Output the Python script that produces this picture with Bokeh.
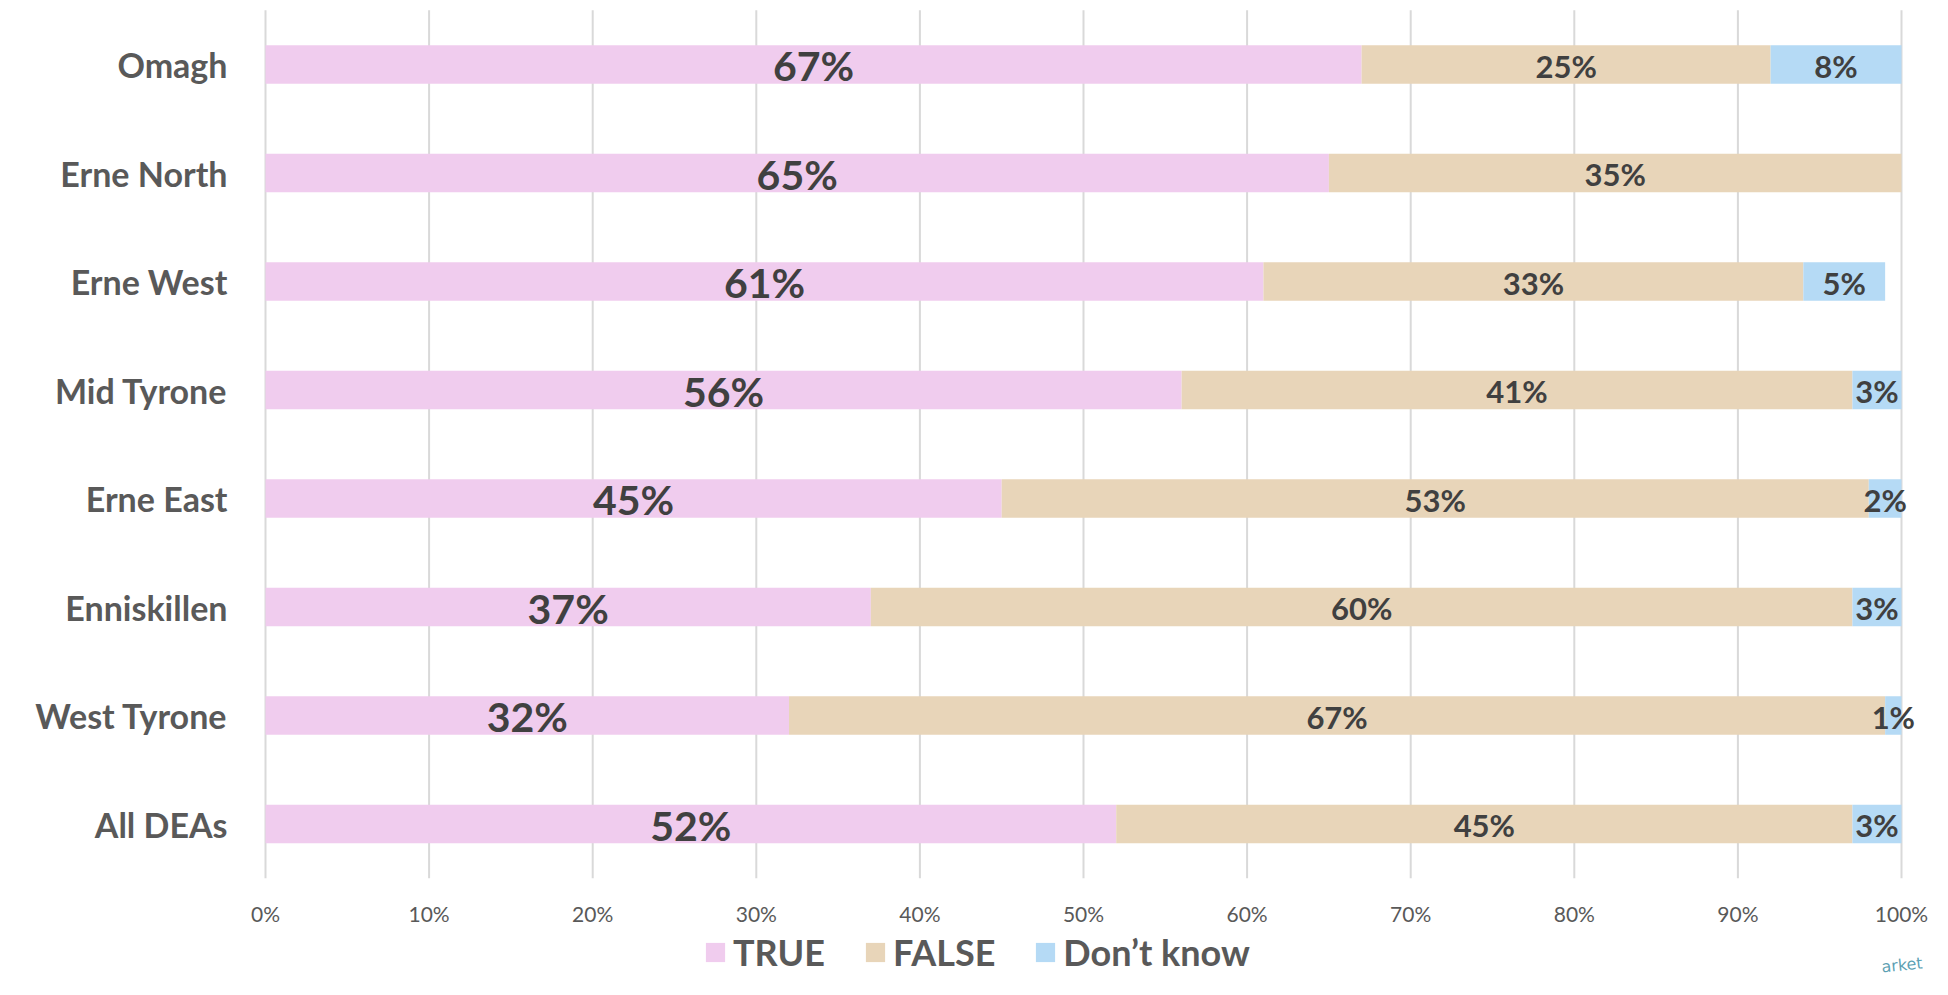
from bokeh.plotting import figure
from bokeh.models import (ColumnDataSource, Range1d, FixedTicker,
                          LabelSet, Legend, LegendItem, Label)
from bokeh.core.properties import value
from bokeh.embed import file_html
from bokeh.resources import INLINE

categories = ["Omagh", "Erne North", "Erne West", "Mid Tyrone",
              "Erne East", "Enniskillen", "West Tyrone", "All DEAs"]
true_vals = [67, 65, 61, 56, 45, 37, 32, 52]
false_vals = [25, 35, 33, 41, 53, 60, 67, 45]
dk_vals = [8, 0, 5, 3, 2, 3, 1, 3]
series_names = ["TRUE", "FALSE", "Don\u2019t know"]
x_ticks = [0, 10, 20, 30, 40, 50, 60, 70, 80, 90, 100]
x_tick_labels = [f"{t}%" for t in x_ticks]

colors = ["#F0CCEE", "#E8D5B9", "#B5DAF5"]
FONT = "Lato"
TXT = "#404040"
GRAY = "#595959"

W, H = 1932, 979
LEFT = 238                      # frame left edge (px)
ZERO = 265                      # px of 0 %
PX_PER_PCT = (1901 - ZERO) / 100.0
ROW = 108.5                     # px per category row
FIRST = 64.0                    # px of first row centre from top
y_top = FIRST / ROW
y_bot = -(H - FIRST) / ROW
x_start = -(ZERO - LEFT) / PX_PER_PCT
x_end = (W - ZERO) / PX_PER_PCT

p = figure(width=W, height=H, output_backend="svg", toolbar_location=None,
           x_range=Range1d(x_start, x_end),
           y_range=Range1d(y_bot, y_top),
           x_axis_location=None,
           min_border_left=LEFT, min_border_right=0,
           min_border_top=0, min_border_bottom=0)
p.outline_line_color = None
p.background_fill_color = "white"
p.border_fill_color = "white"
p.grid.visible = False

ypos = [-k for k in range(len(categories))]

# vertical grid lines (from tick values)
p.segment(x0=x_ticks, x1=x_ticks, y0=[0.5] * len(x_ticks), y1=[-7.5] * len(x_ticks),
          line_color="#D9D9D9", line_width=2)

renderers = []
series = [true_vals, false_vals, dk_vals]
cum = [0] * len(categories)
label_sources = []
for i, vals in enumerate(series):
    left = list(cum)
    right = [c + v for c, v in zip(cum, vals)]
    cum = right
    keep = [j for j, v in enumerate(vals) if v > 0]
    src = ColumnDataSource(dict(
        y=[ypos[j] for j in keep],
        left=[left[j] for j in keep],
        right=[right[j] for j in keep],
        mid=[(left[j] + right[j]) / 2 for j in keep],
        txt=[f"{vals[j]}%" for j in keep],
    ))
    r = p.hbar(y="y", left="left", right="right", height=0.355, source=src,
               fill_color=colors[i], line_color=None)
    renderers.append(r)
    label_sources.append(src)

for i, src in enumerate(label_sources):
    ls = LabelSet(x="mid", y="y", text="txt", source=src,
                  text_align="center", text_baseline="middle",
                  text_font=value(FONT), text_font_style="bold",
                  text_font_size="41px" if i == 0 else "31px",
                  text_color=TXT, y_offset=-1)
    p.add_layout(ls)

# x tick labels
tick_y = -(913 - FIRST) / ROW
p.text(x=x_ticks, y=[tick_y] * len(x_ticks), text=x_tick_labels,
       text_align="center", text_baseline="middle",
       text_font=value(FONT), text_font_size="21px", text_color=GRAY)

# y axis with category names
p.yaxis.ticker = FixedTicker(ticks=ypos)
p.yaxis.major_label_overrides = {y: c for y, c in zip(ypos, categories)}
p.yaxis.axis_line_color = None
p.yaxis.major_tick_line_color = None
p.yaxis.minor_tick_line_color = None
p.yaxis.major_label_text_font = FONT
p.yaxis.major_label_text_font_style = "bold"
p.yaxis.major_label_text_font_size = "34px"
p.yaxis.major_label_text_color = GRAY
p.yaxis.major_label_standoff = 32 - (ZERO - LEFT)

legend = Legend(items=[LegendItem(label=series_names[i], renderers=[renderers[i]])
                       for i in range(3)],
                orientation="horizontal", location=(703 - LEFT, 5),
                glyph_width=24, glyph_height=24, label_standoff=6, spacing=38,
                padding=0, margin=0, border_line_color=None,
                background_fill_alpha=0,
                label_text_font=FONT, label_text_font_style="bold",
                label_text_font_size="36px", label_text_color=GRAY,
                label_height=24)
p.add_layout(legend, "center")

logo = Label(x=1882 - LEFT, y=3, x_units="screen", y_units="screen",
             text="arket", text_font="DejaVu Sans", text_font_size="16px",
             text_color="#3E8FA6", angle=0.1, text_alpha=0.85)
p.add_layout(logo)

open("out.html", "w").write(file_html(p, INLINE))
